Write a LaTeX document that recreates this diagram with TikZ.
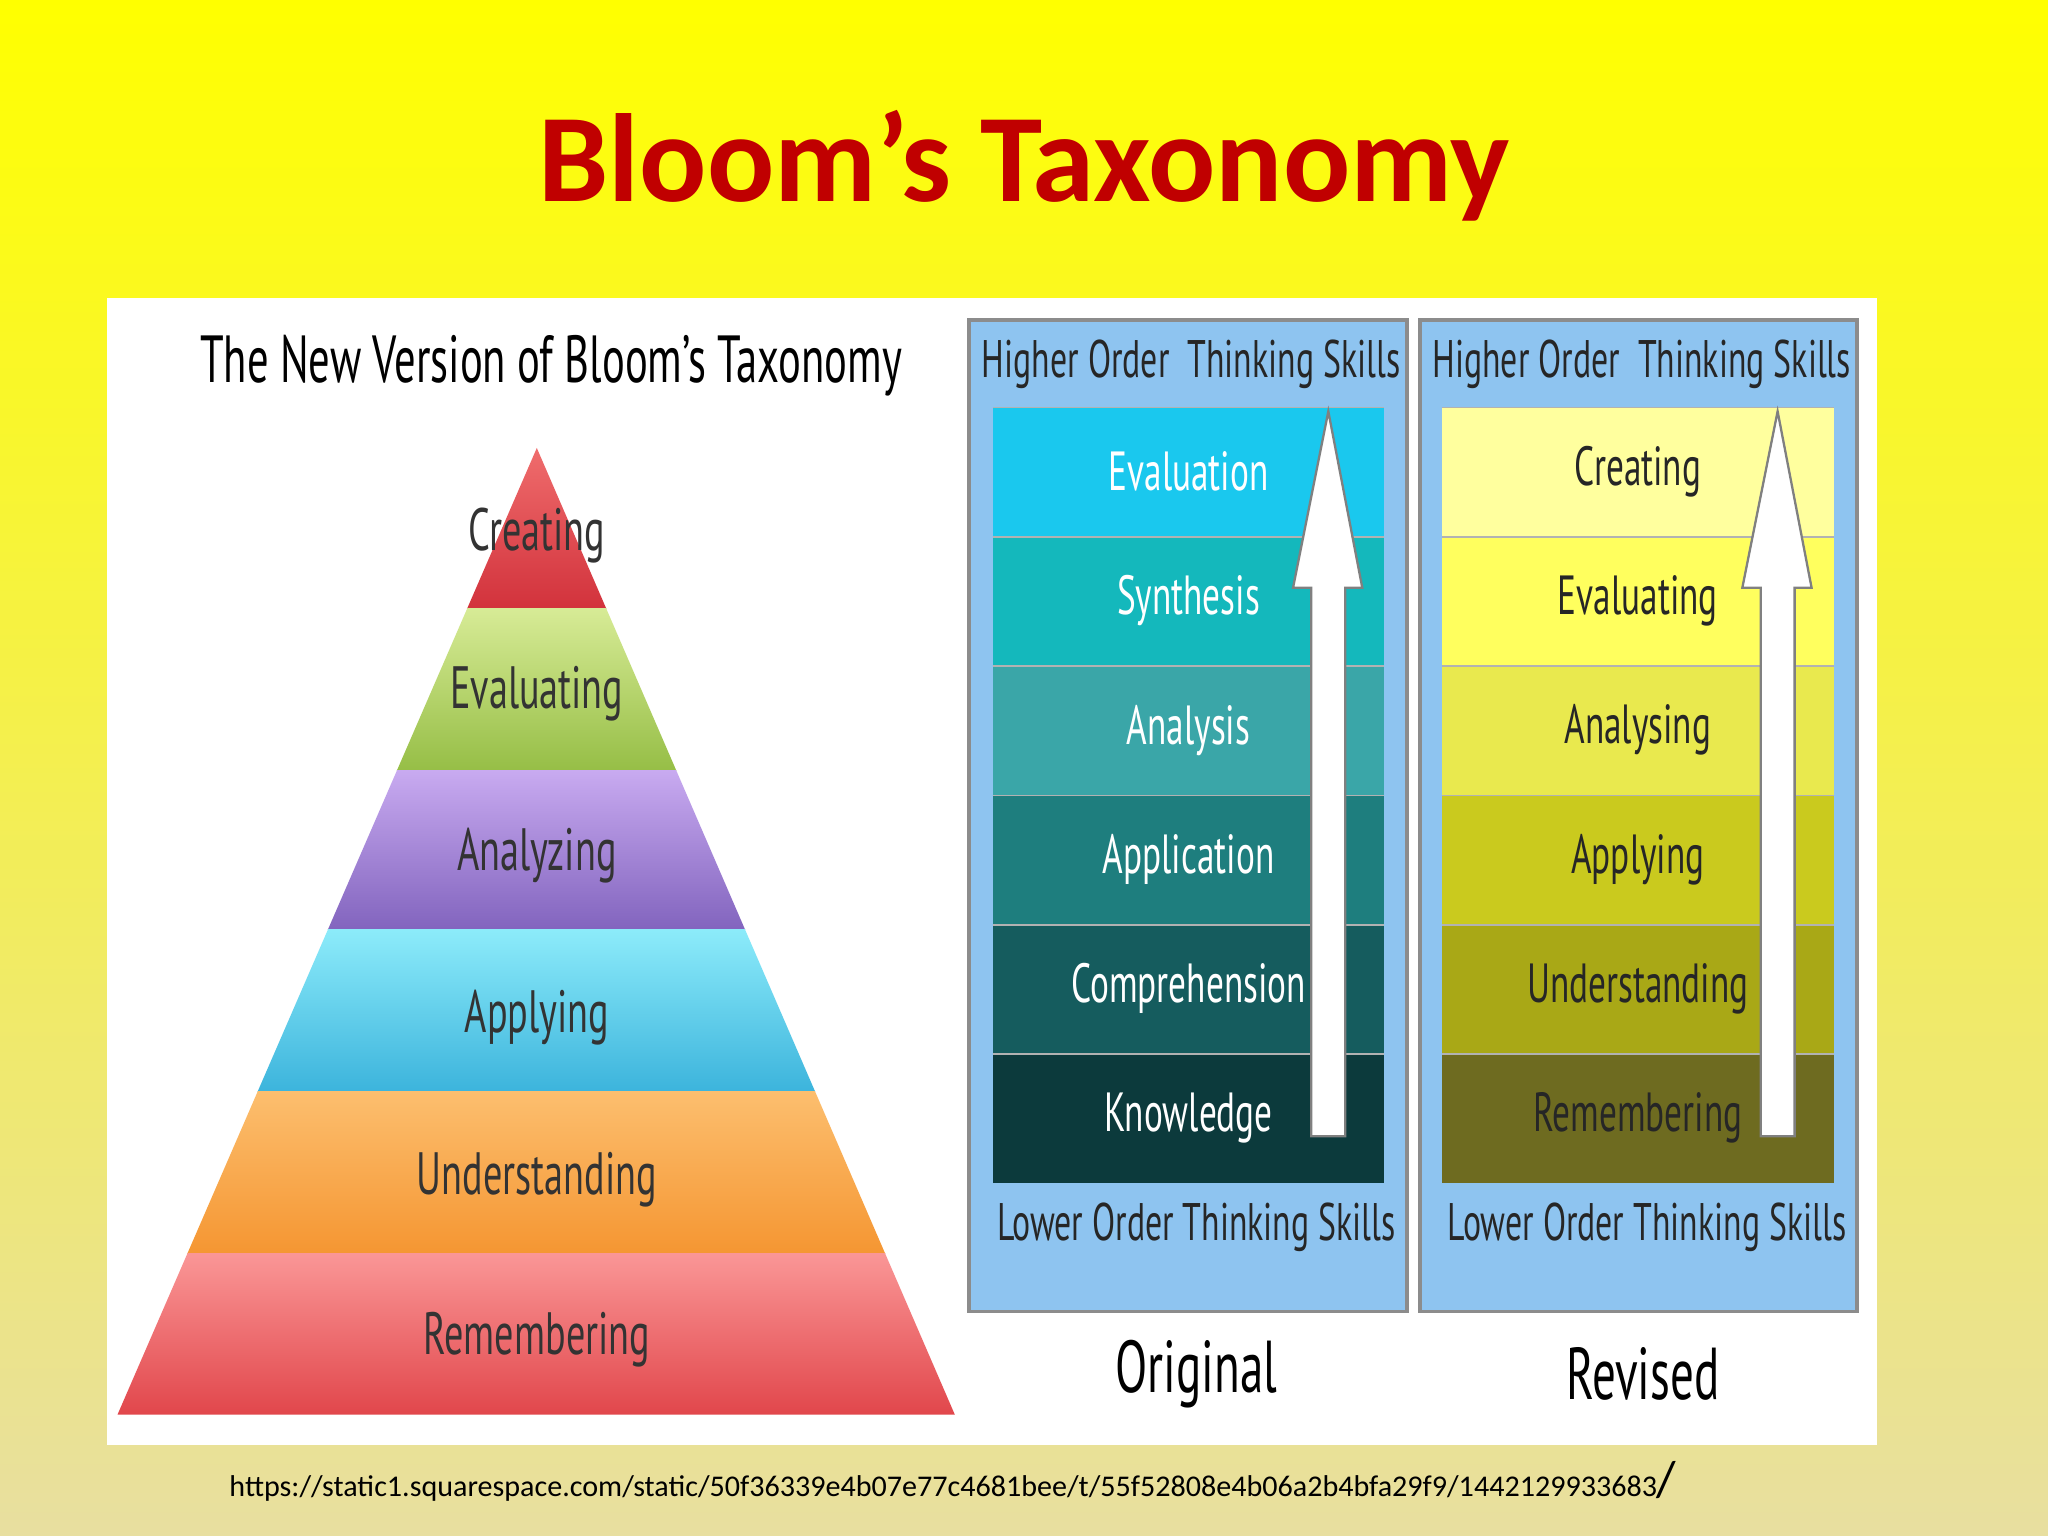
\documentclass[tikz,border=0pt]{standalone}
\usepackage{fontspec}
\setmainfont{PT Sans}
\newfontfamily\titlefont{Carlito}
\usetikzlibrary{arrows.meta}
\newcommand{\cnd}[1]{\scalebox{0.64}[1]{#1}}
\definecolor{ttl}{HTML}{C00000}
\definecolor{panelblue}{HTML}{8EC4F0}
\tikzset{
 plab/.style={font=\fontsize{13}{13}\selectfont, text=black!80},
 olab/.style={font=\fontsize{12}{12}\selectfont, text=white},
 rlab/.style={font=\fontsize{12}{12}\selectfont, text=black!85},
 hlab/.style={font=\fontsize{11.5}{12}\selectfont, text=black!85},
 bigarrow/.style={fill=white, draw=black!50, line width=0.5pt},
 panel/.style={fill=panelblue, draw=black!45, line width=0.8pt},
}
\begin{document}
\begin{tikzpicture}[x=0.01cm,y=-0.01cm]
\useasboundingbox (0,0) rectangle (1568,1176);
\shade[top color=yellow, bottom color={rgb,255:red,232;green,223;blue,160}] (0,0) rectangle (1568,1176);
\node (title) at (784,127) {\titlefont\bfseries\fontsize{27.3}{28}\selectfont\textcolor{ttl}{Bloom’s Taxonomy}};
\fill[white] (82,228) rectangle (1437,1106);
% pyramid
\node (ptitle) at (422,280) {\fontsize{14.5}{15}\selectfont\cnd{The New Version of Bloom’s Taxonomy}};
\begin{scope}
\clip (411,343) -- (731,1083) -- (90,1083) -- cycle;
\shade[top color={rgb,255:red,240;green,110;blue,110}, bottom color={rgb,255:red,210;green,50;blue,60}] (80,340) rectangle (740,466);
\shade[top color={rgb,255:red,215;green,235;blue,150}, bottom color={rgb,255:red,150;green,190;blue,70}] (80,466) rectangle (740,590);
\shade[top color={rgb,255:red,200;green,170;blue,240}, bottom color={rgb,255:red,130;green,100;blue,190}] (80,590) rectangle (740,712);
\shade[top color={rgb,255:red,140;green,235;blue,250}, bottom color={rgb,255:red,60;green,180;blue,220}] (80,712) rectangle (740,836);
\shade[top color={rgb,255:red,252;green,190;blue,110}, bottom color={rgb,255:red,245;green,150;blue,50}] (80,836) rectangle (740,960);
\shade[top color={rgb,255:red,250;green,150;blue,150}, bottom color={rgb,255:red,225;green,70;blue,75}] (80,960) rectangle (740,1084);
\end{scope}
\node[plab] (p1) at (411,410) {\cnd{Creating}};
\node[plab] (p2) at (411,531) {\cnd{Evaluating}};
\node[plab] (p3) at (411,655) {\cnd{Analyzing}};
\node[plab] (p4) at (411,779) {\cnd{Applying}};
\node[plab] (p5) at (411,903) {\cnd{Understanding}};
\node[plab] (p6) at (411,1026) {\cnd{Remembering}};
% original panel
\draw[panel] (742,245) rectangle (1077,1004);
\node[hlab] (oh) at (912,279) {\cnd{Higher Order\ \ Thinking Skills}};
\node[hlab] (ol) at (916,940) {\cnd{Lower Order Thinking Skills}};
\foreach \i/\c in {0/1AC8EE,1/14B8BC,2/3AA6A8,3/1E7E7E,4/155C5E,5/0C3A3C}{
  \definecolor{bc}{HTML}{\c}
  \fill[bc] (760,312+\i*99) rectangle (1060,411+\i*99);
  \draw[black!30] (760,312+\i*99) -- (1060,312+\i*99);
}
\draw[bigarrow] (1004,870) -- (1004,450) -- (990,450) -- (1017,315) -- (1043,450) -- (1030,450) -- (1030,870) -- cycle;
\node[olab] (o1) at (910,361) {\cnd{Evaluation}};
\node[olab] (o2) at (910,460) {\cnd{Synthesis}};
\node[olab] (o3) at (910,559) {\cnd{Analysis}};
\node[olab] (o4) at (910,658) {\cnd{Application}};
\node[olab] (o5) at (910,757) {\cnd{Comprehension}};
\node[olab] (o6) at (910,856) {\cnd{Knowledge}};
\node (orig) at (916,1052) {\fontsize{16}{16}\selectfont\cnd{Original}};
% revised panel
\draw[panel] (1087,245) rectangle (1422,1004);
\node[hlab] (rh) at (1257,279) {\cnd{Higher Order\ \ Thinking Skills}};
\node[hlab] (rl) at (1261,940) {\cnd{Lower Order Thinking Skills}};
\foreach \i/\c in {0/FFFF9E,1/FFFF5E,2/E9E94E,3/CACA1E,4/A9A816,5/6E6B20}{
  \definecolor{bc}{HTML}{\c}
  \fill[bc] (1104,312+\i*99) rectangle (1404,411+\i*99);
  \draw[black!30] (1104,312+\i*99) -- (1404,312+\i*99);
}
\draw[bigarrow] (1348,870) -- (1348,450) -- (1334,450) -- (1361,315) -- (1387,450) -- (1374,450) -- (1374,870) -- cycle;
\node[rlab] (r1) at (1254,361) {\cnd{Creating}};
\node[rlab] (r2) at (1254,460) {\cnd{Evaluating}};
\node[rlab] (r3) at (1254,559) {\cnd{Analysing}};
\node[rlab] (r4) at (1254,658) {\cnd{Applying}};
\node[rlab] (r5) at (1254,757) {\cnd{Understanding}};
\node[rlab] (r6) at (1254,856) {\cnd{Remembering}};
\node (rev) at (1258,1052) {\fontsize{16}{16}\selectfont\cnd{Revised}};
% url
\node[anchor=west, inner sep=0] (url) at (175,1134) {\titlefont\fontsize{6.55}{7}\selectfont https://static1.squarespace.com/static/50f36339e4b07e77c4681bee/t/55f52808e4b06a2b4bfa29f9/1442129933683\fontsize{11}{11}\selectfont/};
\end{tikzpicture}
\end{document}
